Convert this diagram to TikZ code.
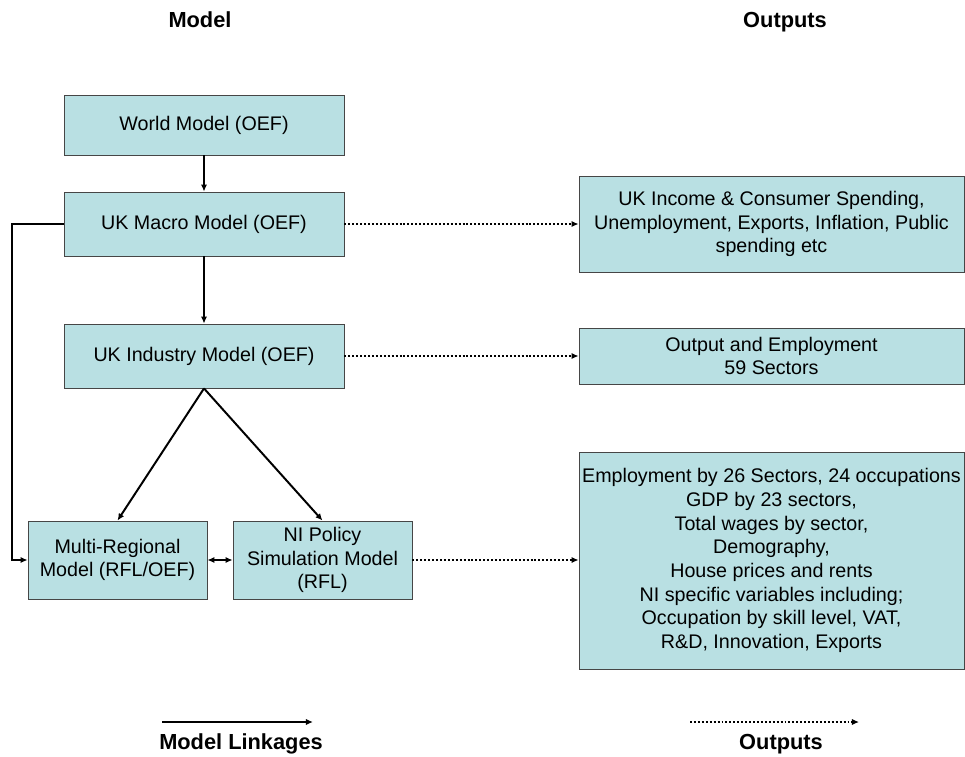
\documentclass[tikz,border=0pt]{standalone}
\usepackage{fontspec}
\setmainfont{Liberation Sans}
\usepackage{xcolor}
\usetikzlibrary{arrows.meta,positioning,calc}

\definecolor{boxfill}{RGB}{185,224,227}
\definecolor{boxline}{RGB}{70,70,70}

\tikzset{
  modelbox/.style={draw=boxline, line width=0.6pt, fill=boxfill, inner sep=0pt,
    align=center, font=\fontsize{14}{16.8}\selectfont},
  link/.style={line width=1.4pt, -{Latex[length=5pt,width=4.5pt]}},
  outlink/.style={line width=1.4pt, dash pattern=on 1.4pt off 1.4pt,
    -{Latex[length=5pt,width=4.5pt]}},
  headtext/.style={anchor=base, font=\fontsize{15.5}{18}\selectfont\bfseries}
}

\begin{document}
\begin{tikzpicture}[x=0.025cm, y=-0.025cm]
    \useasboundingbox (0, 0) rectangle (965, 756);

    \node[headtext] (hmodel) at (200, 27){Model};
    \node[headtext] (hout) at (785, 27){Outputs};

         \node[modelbox, minimum width=280*0.025cm, minimum height=60*0.025cm]
             (world) at (204, 125){World Model (OEF)};
         \node[modelbox, minimum width=280*0.025cm, minimum height=64*0.025cm]
             (macro) at (204, 224){UK Macro Model (OEF)};
         \node[modelbox, minimum width=280*0.025cm, minimum height=64*0.025cm]
             (industry) at (204, 356){UK Industry Model (OEF)};
         \node[modelbox, minimum width=179*0.025cm, minimum height=78*0.025cm]
             (multi) at (117.5, 560){Multi-Regional\\Model (RFL/OEF)};
         \node[modelbox, minimum width=179*0.025cm, minimum height=78*0.025cm]
             (nipol) at (322.5, 560){NI Policy\\Simulation Model\\(RFL)};

         % outputs
         \node[modelbox, minimum width=385*0.025cm, minimum height=96*0.025cm]
             (out1) at (771.5, 224){UK Income \& Consumer Spending,\\Unemployment, Exports, Inflation, Public\\spending etc};
         \node[modelbox, minimum width=385*0.025cm, minimum height=56*0.025cm]
             (out2) at (771.5, 356){Output and Employment\\59 Sectors};
         \node[modelbox, minimum width=385*0.025cm, minimum height=217*0.025cm]
             (out3) at (771.5, 560.5){Employment by 26 Sectors, 24 occupations\\GDP by 23 sectors,\\Total wages by sector,\\Demography,\\House prices and rents\\NI specific variables including;\\Occupation by skill level, VAT,\\R\&D, Innovation, Exports};

         \draw[link] (world) -- (macro);
         \draw[link] (macro) -- (industry);
         \draw[link] (industry.south) -- (multi.north);
         \draw[link] (industry.south) -- (nipol.north);
         \draw[link] (macro.west) -- ++(-52, 0) |- (multi.west);
         \draw[link, {Latex[length=5pt,width=4.5pt]}-{Latex[length=5pt,width=4.5pt]}] (multi) -- (nipol);

         \draw[outlink] (macro.east) -- (macro.east -| out1.west);
         \draw[outlink] (industry.east) -- (industry.east -| out2.west);
         \draw[outlink] (nipol.east) -- (nipol.east -| out3.west);

    % legend
    \coordinate (lk1) at (162, 722);
    \coordinate (lk2) at (313, 722);
    \coordinate (ot1) at (690, 722);
    \coordinate (ot2) at (859, 722);
         \draw[link] (lk1) -- (lk2);
         \draw[outlink] (ot1) -- (ot2);
    \node[headtext] (llink) at (241, 749){Model Linkages};
    \node[headtext] (lout) at (781, 749){Outputs};

\end{tikzpicture}
\end{document}
